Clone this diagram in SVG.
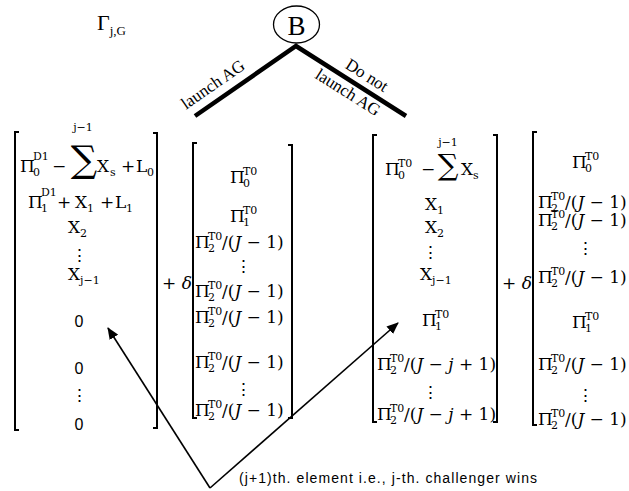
<svg xmlns="http://www.w3.org/2000/svg" width="629" height="491" viewBox="0 0 629 491">
<style>
.m{font-family:"DejaVu Serif",serif;font-size:17px;fill:#000}
.s{font-size:11px}
.i{font-style:italic}
.z{font-family:"Liberation Sans",Arial,sans-serif;font-size:16px;fill:#000}
.d{font-family:"DejaVu Serif",serif;font-size:17px;fill:#000;text-anchor:middle}
.br{fill:none;stroke:#000;stroke-width:2}
.lbl{font-family:"Liberation Serif","Times New Roman",serif;font-size:17px;fill:#000;text-anchor:middle}
.tree{stroke:#000;stroke-width:4.5;fill:none}
.arr{stroke:#000;stroke-width:1.6;fill:none;marker-end:url(#ah)}
</style>
<defs>
<marker id="ah" viewBox="0 0 12 10" refX="11" refY="5" markerWidth="12" markerHeight="10" markerUnits="userSpaceOnUse" orient="auto">
<path d="M0,0 L12,5 L0,10 z" fill="#000"/>
</marker>
</defs>
<rect width="629" height="491" fill="#fff"/>

<g id="title">
<text x="97" y="30" font-family="Liberation Serif,serif" font-size="22">Γ<tspan font-size="13" y="35">j,G</tspan></text>
</g>

<g id="nodeB">
<ellipse cx="296.5" cy="24.5" rx="23" ry="18.5" fill="#fff" stroke="#000" stroke-width="1.3"/>
<text x="296.5" y="35" text-anchor="middle" font-family="Liberation Serif,serif" font-size="27">B</text>
</g>

<g id="connectors">
<path class="tree" d="M195,116 L296,46 L406,116"/>
<text class="lbl" transform="translate(216,89) rotate(-34.8)">launch AG</text>
<text class="lbl" transform="translate(364,80) rotate(32.3)">Do not</text>
<text class="lbl" transform="translate(345,97) rotate(32.3)">launch AG</text>
<path class="arr" d="M210,488 L108,328"/>
<path class="arr" d="M210,488 L398,323"/>
</g>

<g id="matrix1">
<path class="br" d="M19,132 H15 V430 H19"/>
<path class="br" d="M153,133 H157 V428 H153"/>
<text class="m"><tspan x="20" y="172">Π</tspan><tspan class="s" x="33" y="176">0</tspan><tspan class="s" x="33" y="160">D1</tspan><tspan x="52" y="172">−</tspan><tspan x="97" y="172">X</tspan><tspan class="s" x="110" y="176">s</tspan><tspan x="121" y="172">+</tspan><tspan x="136" y="172">L</tspan><tspan class="s" x="147" y="176">0</tspan></text>
<text class="m" x="84" y="172" style="font-size:37px" text-anchor="middle">∑</text>
<text class="m s" x="83" y="131" text-anchor="middle">j−1</text>
<text class="m"><tspan x="28" y="208">Π</tspan><tspan class="s" x="41" y="212">1</tspan><tspan class="s" x="41" y="196">D1</tspan><tspan x="57" y="208">+</tspan><tspan x="75" y="208">X</tspan><tspan class="s" x="87" y="212">1</tspan><tspan x="100" y="208">+</tspan><tspan x="115" y="208">L</tspan><tspan class="s" x="126" y="212">1</tspan></text>
<text class="m"><tspan x="68" y="233">X</tspan><tspan class="s" x="80" y="237">2</tspan></text>
<text class="d" x="79" y="261">⋮</text>
<text class="m"><tspan x="68" y="280">X</tspan><tspan class="s" x="80" y="284">j−1</tspan></text>
<text class="z" x="79" y="327" text-anchor="middle">0</text>
<text class="z" x="79" y="374" text-anchor="middle">0</text>
<text class="d" x="79" y="401">⋮</text>
<text class="z" x="79" y="430" text-anchor="middle">0</text>
</g>

<text class="m" x="162" y="289">+ <tspan class="i">δ</tspan></text>

<g id="matrix2">
<path class="br" d="M197,143 H193 V418 H197"/>
<path class="br" d="M288,145 H292 V418 H288"/>
<text class="m"><tspan x="230" y="183">Π</tspan><tspan class="s" x="243" y="187">0</tspan><tspan class="s" x="243" y="175">T0</tspan></text>
<text class="m"><tspan x="230" y="222">Π</tspan><tspan class="s" x="243" y="226">1</tspan><tspan class="s" x="243" y="214">T0</tspan></text>
<text class="m"><tspan x="195" y="248">Π</tspan><tspan class="s" x="208" y="252">2</tspan><tspan class="s" x="208" y="240">T0</tspan><tspan x="222" y="248">/(<tspan class="i">J</tspan> − 1)</tspan></text>
<text class="d" x="243" y="272">⋮</text>
<text class="m"><tspan x="195" y="297">Π</tspan><tspan class="s" x="208" y="301">2</tspan><tspan class="s" x="208" y="289">T0</tspan><tspan x="222" y="297">/(<tspan class="i">J</tspan> − 1)</tspan></text>
<text class="m"><tspan x="195" y="323">Π</tspan><tspan class="s" x="208" y="327">2</tspan><tspan class="s" x="208" y="315">T0</tspan><tspan x="222" y="323">/(<tspan class="i">J</tspan> − 1)</tspan></text>
<text class="m"><tspan x="195" y="368">Π</tspan><tspan class="s" x="208" y="372">2</tspan><tspan class="s" x="208" y="360">T0</tspan><tspan x="222" y="368">/(<tspan class="i">J</tspan> − 1)</tspan></text>
<text class="d" x="243" y="395">⋮</text>
<text class="m"><tspan x="195" y="416">Π</tspan><tspan class="s" x="208" y="420">2</tspan><tspan class="s" x="208" y="408">T0</tspan><tspan x="222" y="416">/(<tspan class="i">J</tspan> − 1)</tspan></text>
</g>

<g id="matrix3">
<path class="br" d="M377,135 H373 V422 H377"/>
<path class="br" d="M493,135 H497 V422 H493"/>
<text class="m"><tspan x="385" y="175">Π</tspan><tspan class="s" x="398" y="179">0</tspan><tspan class="s" x="398" y="167">T0</tspan><tspan x="421" y="175">−</tspan><tspan x="461" y="175">X</tspan><tspan class="s" x="473" y="179">s</tspan></text>
<text class="m" x="448" y="175" style="font-size:29px" text-anchor="middle">∑</text>
<text class="m s" x="448" y="146" text-anchor="middle">j−1</text>
<text class="m"><tspan x="425" y="210">X</tspan><tspan class="s" x="437" y="214">1</tspan></text>
<text class="m"><tspan x="425" y="233">X</tspan><tspan class="s" x="437" y="237">2</tspan></text>
<text class="d" x="430" y="258">⋮</text>
<text class="m"><tspan x="420" y="280">X</tspan><tspan class="s" x="432" y="284">j−1</tspan></text>
<text class="m"><tspan x="422" y="326">Π</tspan><tspan class="s" x="435" y="330">1</tspan><tspan class="s" x="435" y="318">T0</tspan></text>
<text class="m"><tspan x="377" y="370">Π</tspan><tspan class="s" x="390" y="374">2</tspan><tspan class="s" x="390" y="362">T0</tspan><tspan x="404" y="370">/(<tspan class="i">J</tspan> − <tspan class="i">j</tspan> + 1)</tspan></text>
<text class="d" x="430" y="398">⋮</text>
<text class="m"><tspan x="377" y="420">Π</tspan><tspan class="s" x="390" y="424">2</tspan><tspan class="s" x="390" y="412">T0</tspan><tspan x="404" y="420">/(<tspan class="i">J</tspan> − <tspan class="i">j</tspan> + 1)</tspan></text>
</g>

<text class="m" x="502" y="289">+ <tspan class="i">δ</tspan></text>

<g id="matrix4">
<path class="br" d="M537,132 H533 V425 H537"/>
<text class="m"><tspan x="572" y="168">Π</tspan><tspan class="s" x="585" y="172">0</tspan><tspan class="s" x="585" y="160">T0</tspan></text>
<text class="m"><tspan x="538" y="208">Π</tspan><tspan class="s" x="551" y="212">2</tspan><tspan class="s" x="551" y="200">T0</tspan><tspan x="565" y="208">/(<tspan class="i">J</tspan> − 1)</tspan></text>
<text class="m"><tspan x="538" y="226">Π</tspan><tspan class="s" x="551" y="230">2</tspan><tspan class="s" x="551" y="218">T0</tspan><tspan x="565" y="226">/(<tspan class="i">J</tspan> − 1)</tspan></text>
<text class="d" x="585" y="254">⋮</text>
<text class="m"><tspan x="538" y="283">Π</tspan><tspan class="s" x="551" y="287">2</tspan><tspan class="s" x="551" y="275">T0</tspan><tspan x="565" y="283">/(<tspan class="i">J</tspan> − 1)</tspan></text>
<text class="m"><tspan x="572" y="328">Π</tspan><tspan class="s" x="585" y="332">1</tspan><tspan class="s" x="585" y="320">T0</tspan></text>
<text class="m"><tspan x="538" y="370">Π</tspan><tspan class="s" x="551" y="374">2</tspan><tspan class="s" x="551" y="362">T0</tspan><tspan x="565" y="370">/(<tspan class="i">J</tspan> − 1)</tspan></text>
<text class="d" x="585" y="401">⋮</text>
<text class="m"><tspan x="538" y="425">Π</tspan><tspan class="s" x="551" y="429">2</tspan><tspan class="s" x="551" y="417">T0</tspan><tspan x="565" y="425">/(<tspan class="i">J</tspan> − 1)</tspan></text>
</g>

<g id="note">
<text x="239" y="483" font-family="Liberation Sans,Arial,sans-serif" font-size="14" textLength="298" lengthAdjust="spacing">(j+1)th. element  i.e., j-th.  challenger wins</text>
</g>
</svg>
